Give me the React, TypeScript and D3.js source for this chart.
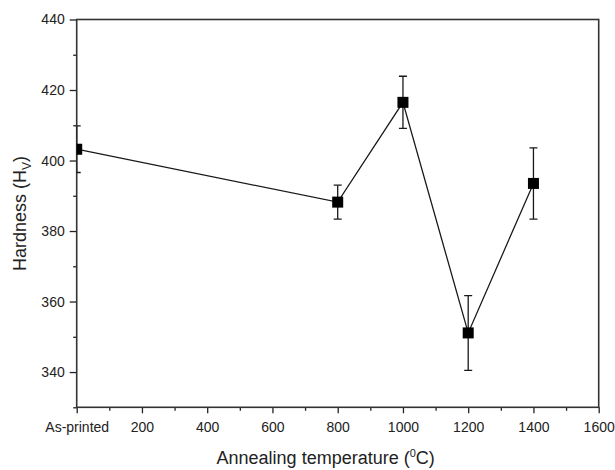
import React, { useRef, useEffect } from 'react';
import * as d3 from 'd3';

// --- Data ---
const temperatures = [0, 800, 1000, 1200, 1400]; // 0 = as-printed
const hardness = [403.2, 388.2, 416.5, 351.1, 393.5];
const hardnessErr = [6.6, 4.8, 7.4, 10.6, 10.1];

const xMajorTicks = [0, 200, 400, 600, 800, 1000, 1200, 1400, 1600];
const xMinorTicks = [100, 300, 500, 700, 900, 1100, 1300, 1500];
const yMajorTicks = [340, 360, 380, 400, 420, 440];
const yMinorTicks = [330, 350, 370, 390, 410, 430];

const App = () => {
    const ref = useRef<SVGSVGElement>(null);

    useEffect(() => {
        const width = 615;
        const height = 470;
        const margin = { top: 19.5, right: 16.3, bottom: 62.7, left: 76.7 };
        const innerW = width - margin.left - margin.right;
        const innerH = height - margin.top - margin.bottom;
        const font = '"Liberation Sans", Arial, sans-serif';
        const ink = '#222222';

        const svg = d3.select(ref.current);
        svg.selectAll('*').remove();

        const g = svg.append('g').attr('transform', `translate(${margin.left},${margin.top})`);

        // --- Scales ---
        const x = d3.scaleLinear().domain([0, 1600]).range([0, innerW]);
        const y = d3.scaleLinear().domain([330, 440]).range([innerH, 0]);

        // clip so the as-printed marker is cut by the left axis
        svg.append('defs').append('clipPath').attr('id', 'plot-clip')
            .append('rect').attr('x', 0).attr('y', 0).attr('width', innerW).attr('height', innerH);

        // --- Axes ---
        const styleAxis = (sel: d3.Selection<SVGGElement, unknown, null, undefined>) => {
            sel.selectAll('.domain').remove();
            sel.selectAll('.tick line').attr('stroke', ink).attr('stroke-width', 1.3);
            sel.selectAll('.tick text')
                .attr('fill', ink)
                .style('font-family', font)
                .style('font-size', '14px');
        };

        // bottom
        const xMajor = g.append('g').attr('transform', `translate(0,${innerH})`)
            .call(d3.axisBottom(x).tickValues(xMajorTicks).tickSize(6).tickPadding(9)
                .tickFormat(d => (+d === 0 ? 'As-printed' : String(d))));
        styleAxis(xMajor);
        const xMinor = g.append('g').attr('transform', `translate(0,${innerH})`)
            .call(d3.axisBottom(x).tickValues(xMinorTicks).tickSize(3.5).tickFormat(() => ''));
        styleAxis(xMinor);

        // left
        const yMajor = g.append('g')
            .call(d3.axisLeft(y).tickValues(yMajorTicks).tickSize(7).tickPadding(5));
        styleAxis(yMajor);
        const yMinor = g.append('g')
            .call(d3.axisLeft(y).tickValues(yMinorTicks).tickSize(3.5).tickFormat(() => ''));
        styleAxis(yMinor);

        // frame
        g.append('rect')
            .attr('x', 0).attr('y', 0).attr('width', innerW).attr('height', innerH)
            .attr('fill', 'none').attr('stroke', '#333333').attr('stroke-width', 1.6);

        // --- Data ---
        const points = temperatures.map((t, i) => ({ t, v: hardness[i], e: hardnessErr[i] }));
        const plot = g.append('g').attr('clip-path', 'url(#plot-clip)');

        const line = d3.line<{ t: number; v: number }>().x(d => x(d.t)).y(d => y(d.v));
        plot.append('path')
            .datum(points)
            .attr('fill', 'none')
            .attr('stroke', '#1a1a1a')
            .attr('stroke-width', 1.3)
            .attr('d', line);

        // error bars
        const cap = 4;
        const eb = plot.selectAll('g.err').data(points).enter().append('g').attr('class', 'err')
            .attr('stroke', '#1a1a1a').attr('stroke-width', 1.3);
        eb.append('line')
            .attr('x1', d => x(d.t)).attr('x2', d => x(d.t))
            .attr('y1', d => y(d.v + d.e)).attr('y2', d => y(d.v - d.e));
        eb.append('line')
            .attr('x1', d => x(d.t) - cap).attr('x2', d => x(d.t) + cap)
            .attr('y1', d => y(d.v + d.e)).attr('y2', d => y(d.v + d.e));
        eb.append('line')
            .attr('x1', d => x(d.t) - cap).attr('x2', d => x(d.t) + cap)
            .attr('y1', d => y(d.v - d.e)).attr('y2', d => y(d.v - d.e));

        // square markers
        const s = 11;
        plot.selectAll('rect.pt').data(points).enter().append('rect')
            .attr('class', 'pt')
            .attr('x', d => x(d.t) - s / 2)
            .attr('y', d => y(d.v) - s / 2)
            .attr('width', s).attr('height', s)
            .attr('fill', '#000000');

        // --- Axis titles ---
        const xt = svg.append('text')
            .attr('x', margin.left + innerW / 2 - 12)
            .attr('y', 464)
            .attr('text-anchor', 'middle')
            .attr('fill', ink)
            .style('font-family', font)
            .style('font-size', '18px');
        xt.append('tspan').text('Annealing temperature (');
        xt.append('tspan').attr('dy', -7).style('font-size', '11px').text('0');
        xt.append('tspan').attr('dy', 7).text('C)');

        const yt = svg.append('text')
            .attr('transform', `translate(26,${margin.top + innerH / 2}) rotate(-90)`)
            .attr('text-anchor', 'middle')
            .attr('fill', ink)
            .style('font-family', font)
            .style('font-size', '18px');
        yt.append('tspan').text('Hardness (H');
        yt.append('tspan').attr('dy', 5).style('font-size', '12px').text('V');
        yt.append('tspan').attr('dy', -5).text(')');
    }, []);

    return (
        <svg
            ref={ref}
            width={615}
            height={470}
            style={{ position: 'absolute', left: 0, top: 0, background: '#ffffff' }}
        ></svg>
    );
};

export default App;
